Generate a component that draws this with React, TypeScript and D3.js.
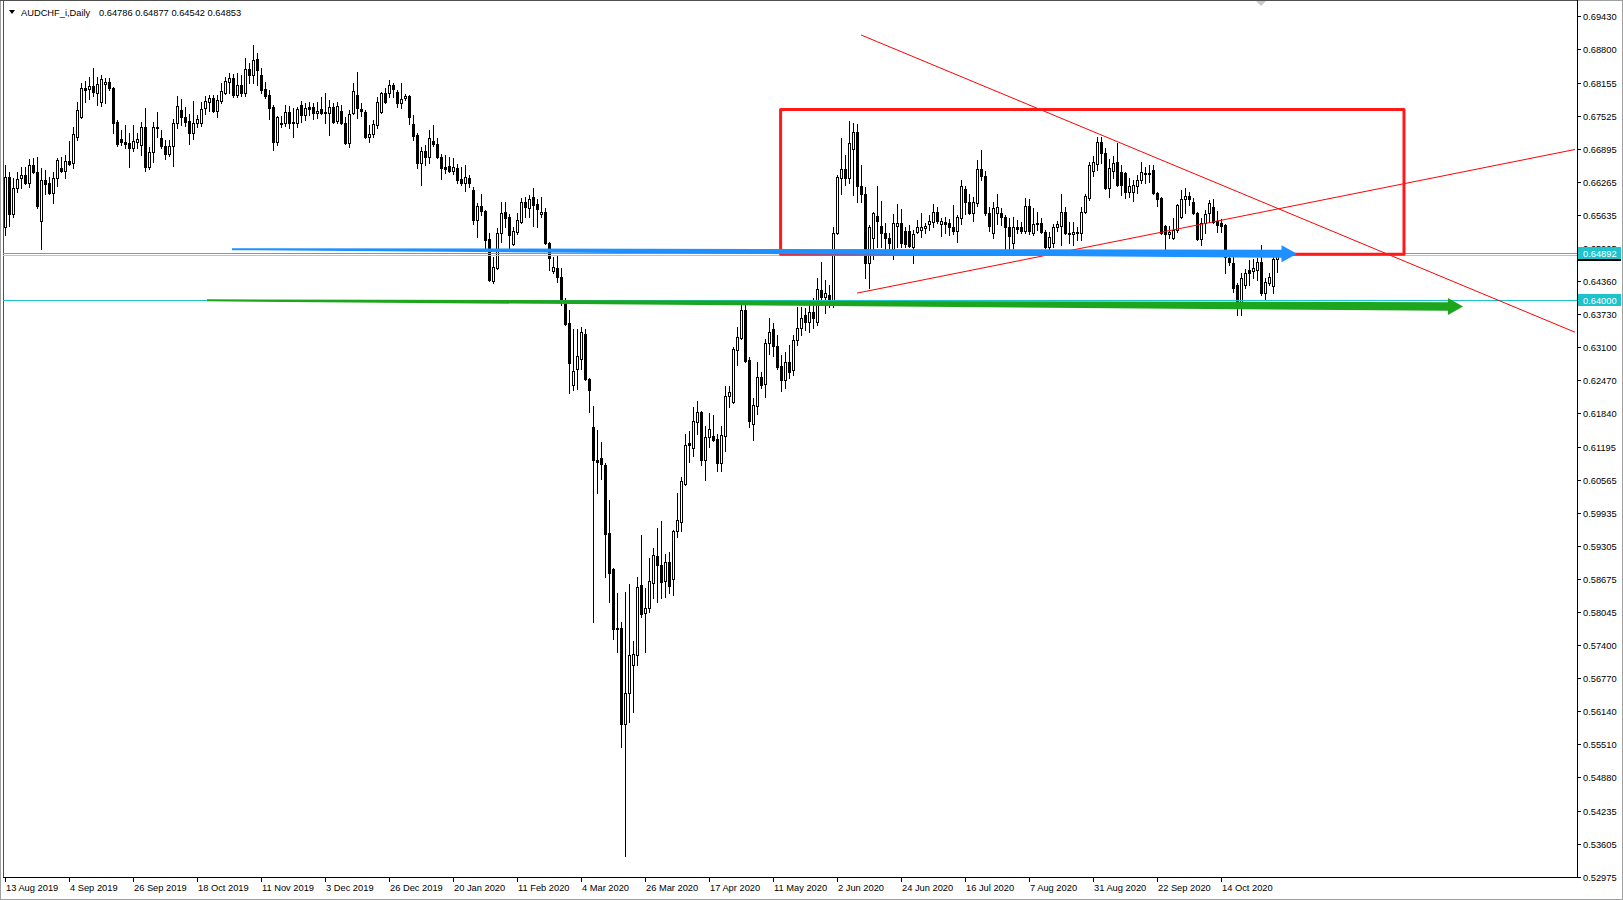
import React from 'react';
import * as d3 from 'd3';

const SYMBOL = 'AUDCHF_i,Daily';

const OPEN = [
0.65400,0.66355,0.65649,0.66145,0.66336,0.66394,0.66241,0.66585,0.66451,0.65515,
0.66298,0.66241,0.66050,0.66336,0.66527,0.66470,0.66661,0.66623,0.67119,0.67501,
0.68055,0.68036,0.68093,0.67960,0.67788,0.68132,0.68170,0.68055,0.67406,0.67081,
0.67024,0.67005,0.66909,0.67024,0.66967,0.67310,0.66546,0.66833,0.67310,0.67100,
0.66947,0.66795,0.66947,0.67387,0.67635,0.67501,0.67425,0.67196,0.67387,0.67387,
0.67673,0.67788,0.67864,0.67616,0.67807,0.67960,0.68170,0.68246,0.67922,0.68113,
0.67960,0.68418,0.68304,0.68609,0.68304,0.68036,0.67922,0.67692,0.67024,0.67387,
0.67387,0.67597,0.67387,0.67387,0.67731,0.67540,0.67692,0.67692,0.67578,0.67654,
0.67597,0.67578,0.67692,0.67425,0.67616,0.67387,0.67005,0.67578,0.67922,0.67654,
0.67597,0.67119,0.67177,0.67349,0.67597,0.67960,0.67960,0.68113,0.67979,0.67769,
0.67864,0.67902,0.67368,0.67158,0.66623,0.66852,0.66737,0.67043,0.66986,0.66737,
0.66546,0.66565,0.66470,0.66527,0.66317,0.66241,0.66336,0.66107,0.65534,0.65801,
0.65706,0.65171,0.64369,0.64617,0.65286,0.65687,0.65591,0.65076,0.65305,0.65496,
0.65878,0.65763,0.65973,0.65840,0.65649,0.65687,0.65095,0.64560,0.64617,0.64445,
0.63987,0.63567,0.62383,0.62688,0.62879,0.63357,0.62497,0.61580,0.60950,0.60988,
0.60855,0.59556,0.58868,0.57722,0.57741,0.55908,0.56500,0.57035,0.57226,0.58563,
0.58028,0.58123,0.58601,0.59116,0.58945,0.58639,0.59002,0.58677,0.59594,0.59766,
0.60492,0.61275,0.61179,0.61676,0.61867,0.60950,0.61389,0.61408,0.61351,0.60893,
0.61408,0.62172,0.62058,0.63051,0.63280,0.63815,0.62860,0.61638,0.61981,0.62535,
0.62402,0.63185,0.63452,0.63127,0.62745,0.62478,0.62822,0.62669,0.63242,0.63471,
0.63720,0.63586,0.63777,0.63586,0.64197,0.64063,0.64102,0.63968,0.65286,0.66336,
0.66508,0.66336,0.66890,0.67215,0.66183,0.66031,0.64713,0.65190,0.65610,0.65419,
0.65286,0.65190,0.64980,0.65419,0.65477,0.65324,0.65324,0.65018,0.65305,0.65343,
0.65381,0.65458,0.65496,0.65687,0.65458,0.65496,0.65477,0.65400,0.65324,0.65572,
0.66126,0.65878,0.65668,0.65859,0.66508,0.66374,0.65668,0.65286,0.65668,0.65668,
0.65591,0.65400,0.65095,0.65400,0.65400,0.65324,0.65801,0.65286,0.65458,0.65477,
0.65305,0.65018,0.65095,0.65400,0.65419,0.65687,0.65286,0.65267,0.65305,0.65286,
0.65687,0.65954,0.66470,0.66604,0.67024,0.66814,0.66145,0.66470,0.66642,0.66451,
0.66432,0.66069,0.66069,0.66183,0.66298,0.66432,0.66413,0.66489,0.66050,0.65954,
0.65419,0.65267,0.65190,0.65343,0.65591,0.65935,0.65992,0.65878,0.65668,0.65171,
0.65477,0.65668,0.65782,0.65515,0.65477,0.65439,0.64808,0.64713,0.64293,0.63968,
0.64293,0.64579,0.64560,0.64579,0.64732,0.64140,0.64331,0.64274,0.64786,
];

const HIGH = [
0.66585,0.66451,0.66336,0.66451,0.66546,0.66546,0.66699,0.66718,0.66737,0.66527,
0.66489,0.66355,0.66451,0.66718,0.66737,0.66776,0.67043,0.67310,0.67788,0.68151,
0.68189,0.68265,0.68437,0.68265,0.68304,0.68246,0.68246,0.68074,0.67444,0.67253,
0.67349,0.67196,0.67349,0.67196,0.67406,0.67673,0.66928,0.67406,0.67597,0.67253,
0.67062,0.67062,0.67463,0.67902,0.67845,0.67692,0.67559,0.67807,0.67540,0.67788,
0.67902,0.67922,0.67922,0.67922,0.68151,0.68265,0.68342,0.68323,0.68342,0.68304,
0.68628,0.68533,0.68877,0.68724,0.68437,0.68170,0.68017,0.67731,0.67520,0.67520,
0.67731,0.67711,0.67673,0.67692,0.67807,0.67769,0.67788,0.67769,0.67788,0.67883,
0.67960,0.67826,0.67769,0.67788,0.67731,0.67501,0.67635,0.68151,0.68361,0.67769,
0.67635,0.67349,0.67444,0.67883,0.67979,0.68055,0.68208,0.68151,0.68017,0.68151,
0.67941,0.67922,0.67540,0.67196,0.66928,0.66967,0.67253,0.67349,0.67100,0.66795,
0.66776,0.66737,0.66718,0.66604,0.66546,0.66585,0.66394,0.66164,0.65859,0.66031,
0.65725,0.65286,0.64827,0.65381,0.65878,0.65878,0.65649,0.65400,0.65668,0.65954,
0.65973,0.66012,0.66145,0.65935,0.65973,0.65763,0.65114,0.64827,0.64866,0.64617,
0.64044,0.63815,0.63452,0.63452,0.63490,0.63452,0.62516,0.61981,0.61523,0.61294,
0.60893,0.60186,0.58887,0.58410,0.57856,0.58429,0.58582,0.57493,0.58715,0.59518,
0.58505,0.59078,0.59269,0.59651,0.59785,0.59155,0.59193,0.59613,0.60320,0.60625,
0.61447,0.61504,0.61962,0.62077,0.61886,0.61599,0.61848,0.61809,0.61447,0.61599,
0.62363,0.62363,0.63108,0.63490,0.63911,0.63987,0.62917,0.62134,0.62822,0.62631,
0.63261,0.63662,0.63567,0.63338,0.62956,0.63013,0.63147,0.63338,0.63872,0.63872,
0.63853,0.64006,0.64044,0.64426,0.64732,0.64388,0.64293,0.65400,0.66394,0.67100,
0.66776,0.67425,0.67387,0.67368,0.66585,0.66164,0.65439,0.65687,0.66183,0.65897,
0.65477,0.65286,0.65649,0.65840,0.65744,0.65400,0.65439,0.65343,0.65534,0.65668,
0.65477,0.65630,0.65840,0.65782,0.65572,0.65591,0.65553,0.65820,0.65630,0.66298,
0.66183,0.66031,0.65973,0.66680,0.66871,0.66470,0.65782,0.65878,0.66031,0.65763,
0.65630,0.65572,0.65591,0.65534,0.65496,0.65954,0.65935,0.65763,0.65687,0.65572,
0.65343,0.65305,0.65458,0.65515,0.66031,0.65782,0.65496,0.65496,0.65400,0.65782,
0.66031,0.66642,0.66756,0.67119,0.67119,0.66909,0.66699,0.66756,0.67005,0.66585,
0.66451,0.66336,0.66298,0.66394,0.66642,0.66546,0.66585,0.66585,0.66069,0.65973,
0.65439,0.65419,0.65572,0.65840,0.66107,0.66145,0.66069,0.65954,0.65687,0.65572,
0.65725,0.65916,0.65935,0.65706,0.65553,0.65458,0.64923,0.64827,0.64331,0.64522,
0.64598,0.64770,0.64789,0.64808,0.65057,0.64426,0.64522,0.64846,0.64877,
];

const LOW = [
0.65248,0.65419,0.65591,0.66069,0.66145,0.66222,0.66164,0.66432,0.65763,0.64980,
0.66031,0.66031,0.65859,0.66183,0.66451,0.66336,0.66585,0.66527,0.67062,0.67482,
0.67788,0.67845,0.67902,0.67731,0.67711,0.67769,0.68017,0.67196,0.66947,0.66967,
0.66909,0.66546,0.66852,0.66909,0.66776,0.66470,0.66508,0.66642,0.67119,0.66909,
0.66699,0.66756,0.66565,0.67291,0.67349,0.67329,0.66986,0.67081,0.67310,0.67329,
0.67559,0.67616,0.67597,0.67501,0.67769,0.67941,0.67960,0.67883,0.67883,0.67902,
0.67902,0.68151,0.68151,0.68113,0.67960,0.67864,0.67463,0.66871,0.66967,0.67310,
0.67329,0.67291,0.67119,0.67310,0.67406,0.67444,0.67540,0.67463,0.67482,0.67559,
0.67387,0.67158,0.67387,0.67387,0.67368,0.66986,0.66928,0.67559,0.67482,0.67520,
0.67100,0.67024,0.67119,0.67291,0.67578,0.67769,0.67883,0.67883,0.67692,0.67673,
0.67826,0.67368,0.67062,0.66527,0.66203,0.66585,0.66623,0.66947,0.66718,0.66317,
0.66432,0.66451,0.66413,0.66241,0.66203,0.66088,0.66164,0.65458,0.65209,0.65630,
0.64980,0.64369,0.64331,0.64598,0.65114,0.65400,0.64999,0.65057,0.65267,0.65477,
0.65591,0.65591,0.65419,0.65400,0.65591,0.65076,0.64579,0.64522,0.64350,0.63911,
0.63529,0.62230,0.62287,0.62306,0.62688,0.62478,0.61867,0.57856,0.60320,0.60587,
0.58715,0.58238,0.57531,0.57283,0.55468,0.53367,0.55946,0.56137,0.57035,0.57951,
0.57283,0.58047,0.58314,0.58238,0.58314,0.58333,0.58410,0.58372,0.59479,0.59594,
0.60473,0.60912,0.61026,0.61447,0.60855,0.60568,0.61198,0.61313,0.60740,0.60740,
0.61122,0.61962,0.62039,0.62765,0.63261,0.62822,0.61580,0.61332,0.61829,0.62325,
0.62153,0.62975,0.62936,0.62688,0.62268,0.62325,0.62516,0.62574,0.63147,0.63338,
0.63433,0.63395,0.63471,0.63529,0.63930,0.63758,0.63872,0.63872,0.65267,0.66031,
0.66203,0.66241,0.66012,0.65878,0.65878,0.64426,0.64235,0.64789,0.65018,0.65018,
0.64923,0.64923,0.64789,0.65018,0.65018,0.65018,0.65018,0.64713,0.65286,0.65209,
0.65286,0.65343,0.65400,0.65477,0.65228,0.65286,0.65248,0.65267,0.65114,0.65458,
0.65649,0.65649,0.65515,0.65801,0.66298,0.65630,0.65324,0.65190,0.65458,0.65439,
0.64980,0.64980,0.64999,0.65286,0.65286,0.65286,0.65267,0.65248,0.65343,0.65286,
0.64999,0.64980,0.65018,0.65324,0.65057,0.65267,0.65095,0.65057,0.65152,0.65152,
0.65668,0.65916,0.66374,0.66489,0.66623,0.66126,0.65973,0.66336,0.66183,0.66012,
0.65954,0.65973,0.65897,0.66050,0.66241,0.66241,0.66260,0.66031,0.65801,0.65267,
0.64923,0.65190,0.65171,0.65305,0.65572,0.65668,0.65820,0.65649,0.65152,0.65057,
0.65286,0.65496,0.65477,0.65305,0.65305,0.64522,0.64675,0.64159,0.63720,0.63720,
0.64235,0.64293,0.64426,0.64388,0.64102,0.64025,0.64293,0.64140,0.64542,
];

const CLOSE = [
0.66355,0.65649,0.66145,0.66317,0.66394,0.66241,0.66585,0.66451,0.65801,0.66298,
0.66222,0.66050,0.66336,0.66680,0.66470,0.66661,0.66604,0.67177,0.67635,0.68055,
0.68017,0.68093,0.67979,0.68132,0.68227,0.68170,0.68055,0.67387,0.66986,0.67024,
0.66986,0.66909,0.67043,0.67081,0.67310,0.66546,0.66833,0.67310,0.67291,0.66947,
0.66795,0.66947,0.67387,0.67711,0.67501,0.67406,0.67196,0.67387,0.67463,0.67654,
0.67807,0.67864,0.67616,0.67826,0.67998,0.68189,0.68246,0.67922,0.68113,0.67960,
0.68418,0.68304,0.68590,0.68399,0.68017,0.67902,0.67673,0.67024,0.67501,0.67368,
0.67597,0.67387,0.67406,0.67654,0.67540,0.67673,0.67654,0.67578,0.67616,0.67578,
0.67578,0.67692,0.67406,0.67711,0.67387,0.67005,0.67559,0.67998,0.67673,0.67616,
0.67119,0.67177,0.67368,0.67788,0.67960,0.67788,0.68113,0.68036,0.67769,0.67845,
0.67902,0.67501,0.67138,0.66623,0.66852,0.66737,0.67100,0.66986,0.66737,0.66527,
0.66508,0.66470,0.66546,0.66298,0.66241,0.66355,0.66241,0.65534,0.65801,0.65706,
0.65152,0.64388,0.64636,0.65286,0.65668,0.65572,0.65248,0.65324,0.65534,0.65878,
0.65782,0.65935,0.65820,0.65744,0.65687,0.65095,0.64808,0.64636,0.64445,0.63987,
0.63548,0.62803,0.62650,0.62936,0.63395,0.62497,0.62287,0.60950,0.60912,0.60874,
0.59537,0.58792,0.57722,0.57741,0.55908,0.56500,0.57226,0.57245,0.58524,0.58009,
0.58123,0.58639,0.59136,0.58945,0.58620,0.59002,0.58543,0.59594,0.59804,0.60549,
0.61237,0.61237,0.61695,0.61867,0.60950,0.61389,0.61542,0.61332,0.60893,0.61428,
0.62172,0.62249,0.63070,0.63299,0.63815,0.62841,0.61695,0.62000,0.62535,0.62383,
0.63185,0.63395,0.63127,0.62726,0.62478,0.62822,0.62631,0.63242,0.63471,0.63662,
0.63586,0.63777,0.63662,0.64216,0.64063,0.64140,0.63968,0.65286,0.66355,0.66508,
0.66336,0.67005,0.67215,0.66183,0.66031,0.64713,0.65400,0.65668,0.65515,0.65286,
0.65190,0.65095,0.65477,0.65477,0.65095,0.65076,0.65037,0.65267,0.65400,0.65400,
0.65419,0.65515,0.65687,0.65515,0.65515,0.65458,0.65400,0.65324,0.65591,0.66183,
0.65878,0.65668,0.65878,0.66508,0.66374,0.65668,0.65419,0.65763,0.65782,0.65591,
0.65400,0.65228,0.65400,0.65362,0.65324,0.65801,0.65324,0.65458,0.65477,0.65305,
0.65018,0.65209,0.65400,0.65458,0.65687,0.65286,0.65267,0.65305,0.65286,0.65687,
0.65992,0.66585,0.66642,0.67024,0.66814,0.66145,0.66527,0.66623,0.66203,0.66203,
0.66069,0.66183,0.66203,0.66298,0.66451,0.66413,0.66432,0.66050,0.65935,0.65286,
0.65267,0.65305,0.65343,0.65820,0.65935,0.65992,0.65935,0.65668,0.65171,0.65477,
0.65649,0.65859,0.65496,0.65439,0.65419,0.64827,0.64732,0.64235,0.63968,0.64426,
0.64522,0.64522,0.64617,0.64732,0.64140,0.64350,0.64445,0.64789,0.64853,
];

const DATE_LABELS = ['13 Aug 2019', '4 Sep 2019', '26 Sep 2019', '18 Oct 2019', '11 Nov 2019', '3 Dec 2019',
  '26 Dec 2019', '20 Jan 2020', '11 Feb 2020', '4 Mar 2020', '26 Mar 2020', '17 Apr 2020', '11 May 2020',
  '2 Jun 2020', '24 Jun 2020', '16 Jul 2020', '7 Aug 2020', '31 Aug 2020', '22 Sep 2020', '14 Oct 2020'];
const DATE_LABEL_STEP = 16;

const PRICE_TICKS = [0.69430, 0.68800, 0.68155, 0.67525, 0.66895, 0.66265, 0.65635, 0.65005, 0.64360,
  0.63730, 0.63100, 0.62470, 0.61840, 0.61195, 0.60565, 0.59935, 0.59305, 0.58675, 0.58045, 0.57400,
  0.56770, 0.56140, 0.55510, 0.54880, 0.54235, 0.53605, 0.52975];

const HLINES = [0.64892, 0.64000];

// drawn objects in (bar index, price) coordinates
const RECT = { i0: 193.9, i1: 349.75, p0: 0.67645, p1: 0.64875 };
const TREND_DOWN = { i0: 214, p0: 0.69068, i1: 392.5, p1: 0.63387 };
const TREND_UP = { i0: 213, p0: 0.64134, i1: 392.5, p1: 0.66879 };
const BLUE_ARROW = { i0: 56.75, p0: 0.64974, i1: 323, p1: 0.64885 };
const GREEN_ARROW = { i0: 50.5, p0: 0.63996, i1: 364.5, p1: 0.63876 };

const FONT = "'Liberation Sans', Arial, sans-serif";

function arrowPoints(x0: number, y0: number, x1: number, y1: number, t0: number, t1: number, hh: number, hl: number) {
  const dx = x1 - x0, dy = y1 - y0, len = Math.hypot(dx, dy);
  const ux = dx / len, uy = dy / len, nx = -uy, ny = ux;
  const bx = x1 - ux * hl, by = y1 - uy * hl;
  const pts = [
    [x0 + nx * t0 / 2, y0 + ny * t0 / 2],
    [bx + nx * t1 / 2, by + ny * t1 / 2],
    [bx + nx * hh, by + ny * hh],
    [x1, y1],
    [bx - nx * hh, by - ny * hh],
    [bx - nx * t1 / 2, by - ny * t1 / 2],
    [x0 - nx * t0 / 2, y0 - ny * t0 / 2],
  ];
  return pts.map(p => p[0].toFixed(2) + ',' + p[1].toFixed(2)).join(' ');
}

export default function App() {
  const W = 1623, H = 900;
  const plotL = 3, plotR = 1577, plotT = 1, plotB = 877;
  const x = d3.scaleLinear().domain([0, 1]).range([5, 9]);
  const y = d3.scaleLinear().domain([0.52975, 0.69430]).range([877, 16]);
  const n = CLOSE.length;
  const last = n - 1;
  const bid = CLOSE[last];
  const cyan = '#1dc3cc';

  const candles = CLOSE.map((c, i) => {
    const o = OPEN[i], h = HIGH[i], l = LOW[i];
    const cx = Math.round(x(i));
    const yH = Math.round(y(h)), yL = Math.round(y(l));
    const yT = Math.round(y(Math.max(o, c))), yB = Math.round(y(Math.min(o, c)));
    const bull = c >= o;
    return (
      <g key={i}>
        <rect x={cx} y={yH} width={1} height={yL - yH + 1} fill="#000" />
        <rect x={cx - 1} y={yT} width={3} height={yB - yT + 1} fill="#000" />
        {bull && yB - yT >= 2 && <rect x={cx} y={yT + 1} width={1} height={yB - yT - 1} fill="#fff" />}
      </g>
    );
  });

  const blue = arrowPoints(x(BLUE_ARROW.i0), y(BLUE_ARROW.p0), x(BLUE_ARROW.i1), y(BLUE_ARROW.p1), 2, 8, 8.5, 15.5);
  const green = arrowPoints(x(GREEN_ARROW.i0), y(GREEN_ARROW.p0), x(GREEN_ARROW.i1), y(GREEN_ARROW.p1), 2, 8.5, 8.5, 15);

  const ohlcText = [OPEN[last], HIGH[last], LOW[last], CLOSE[last]].map(v => v.toFixed(5)).join(' ');

  return (
    <svg width={W} height={H} style={{ position: 'absolute', left: 0, top: 0, background: '#fff' }}
      fontFamily={FONT}>
      <defs>
        <clipPath id="plot">
          <rect x={plotL} y={plotT} width={plotR - plotL} height={plotB - plotT} />
        </clipPath>
      </defs>
      <rect x={0} y={0} width={W} height={H} fill="#fff" />
      {/* window frame */}
      <rect x={0.5} y={0.5} width={W - 1} height={H - 1} fill="none" stroke="#a0a0a0" />
      <line x1={3.5} y1={0} x2={3.5} y2={plotB} stroke="#505050" />
      <line x1={0} y1={0.5} x2={plotR} y2={0.5} stroke="#505050" />

      {/* candles */}
      <g shapeRendering="crispEdges">{candles}</g>

      <g clipPath="url(#plot)">
        {/* horizontal lines */}
        {HLINES.map((p, k) => (
          <line key={k} x1={plotL} x2={plotR} y1={Math.round(y(p)) + 0.5} y2={Math.round(y(p)) + 0.5}
            stroke={cyan} strokeWidth={1} shapeRendering="crispEdges" />
        ))}
        <line x1={plotL} x2={plotR} y1={Math.round(y(bid)) + 0.5} y2={Math.round(y(bid)) + 0.5}
          stroke="#c0c0c0" strokeWidth={1} shapeRendering="crispEdges" />

        {/* trend lines */}
        <line x1={x(TREND_DOWN.i0)} y1={y(TREND_DOWN.p0)} x2={x(TREND_DOWN.i1)} y2={y(TREND_DOWN.p1)}
          stroke="#ff0000" strokeWidth={1} />
        <line x1={x(TREND_UP.i0)} y1={y(TREND_UP.p0)} x2={x(TREND_UP.i1)} y2={y(TREND_UP.p1)}
          stroke="#ff0000" strokeWidth={1} />

        {/* rectangle */}
        <rect x={x(RECT.i0)} y={y(RECT.p0)} width={x(RECT.i1) - x(RECT.i0)} height={y(RECT.p1) - y(RECT.p0)}
          fill="none" stroke="#ff1a1a" strokeWidth={3} strokeLinejoin="round" />

        {/* arrows */}
        <polygon points={blue} fill="#1e90ff" />
        <polygon points={green} fill="#1ea51e" />
      </g>

      {/* shift marker */}
      <polygon points="1256,1 1266,1 1261,6" fill="#c8c8c8" />

      {/* axes */}
      <line x1={plotR + 0.5} y1={0} x2={plotR + 0.5} y2={plotB + 1} stroke="#000" shapeRendering="crispEdges" />
      <line x1={plotL} y1={plotB + 0.5} x2={plotR + 1} y2={plotB + 0.5} stroke="#000" shapeRendering="crispEdges" />

      {PRICE_TICKS.map((p, k) => {
        const yy = Math.round(y(p));
        return (
          <g key={k}>
            <line x1={plotR + 1} x2={plotR + 4} y1={yy + 0.5} y2={yy + 0.5} stroke="#000" shapeRendering="crispEdges" />
            <text x={plotR + 6} y={yy + 3.5} fontSize={9.3} fill="#000">{p.toFixed(5)}</text>
          </g>
        );
      })}

      {/* price labels */}
      <g>
        <rect x={plotR + 1} y={Math.round(y(bid)) - 6} width={43} height={12} fill="#000" />
        <text x={plotR + 6} y={Math.round(y(bid)) + 3.5} fontSize={9.3} fill="#fff">{bid.toFixed(5)}</text>
        {HLINES.map((p, k) => (
          <g key={k}>
            <rect x={plotR + 1} y={Math.round(y(p)) - 6} width={43} height={12} fill={cyan} />
            <text x={plotR + 6} y={Math.round(y(p)) + 3.5} fontSize={9.3} fill="#fff">{p.toFixed(5)}</text>
          </g>
        ))}
      </g>

      {DATE_LABELS.map((d, k) => {
        const xx = Math.round(x(k * DATE_LABEL_STEP));
        return (
          <g key={k}>
            <line x1={xx + 0.5} x2={xx + 0.5} y1={plotB + 1} y2={plotB + 5} stroke="#000" shapeRendering="crispEdges" />
            <text x={xx + 1} y={891} fontSize={9.3} fill="#000">{d}</text>
          </g>
        );
      })}

      {/* header */}
      <polygon points="9,10 15,10 12,14" fill="#000" />
      <text x={21} y={15.5} fontSize={9.3} fill="#000">{SYMBOL}</text>
      <text x={99} y={15.5} fontSize={9.3} fill="#000">{ohlcText}</text>
    </svg>
  );
}
